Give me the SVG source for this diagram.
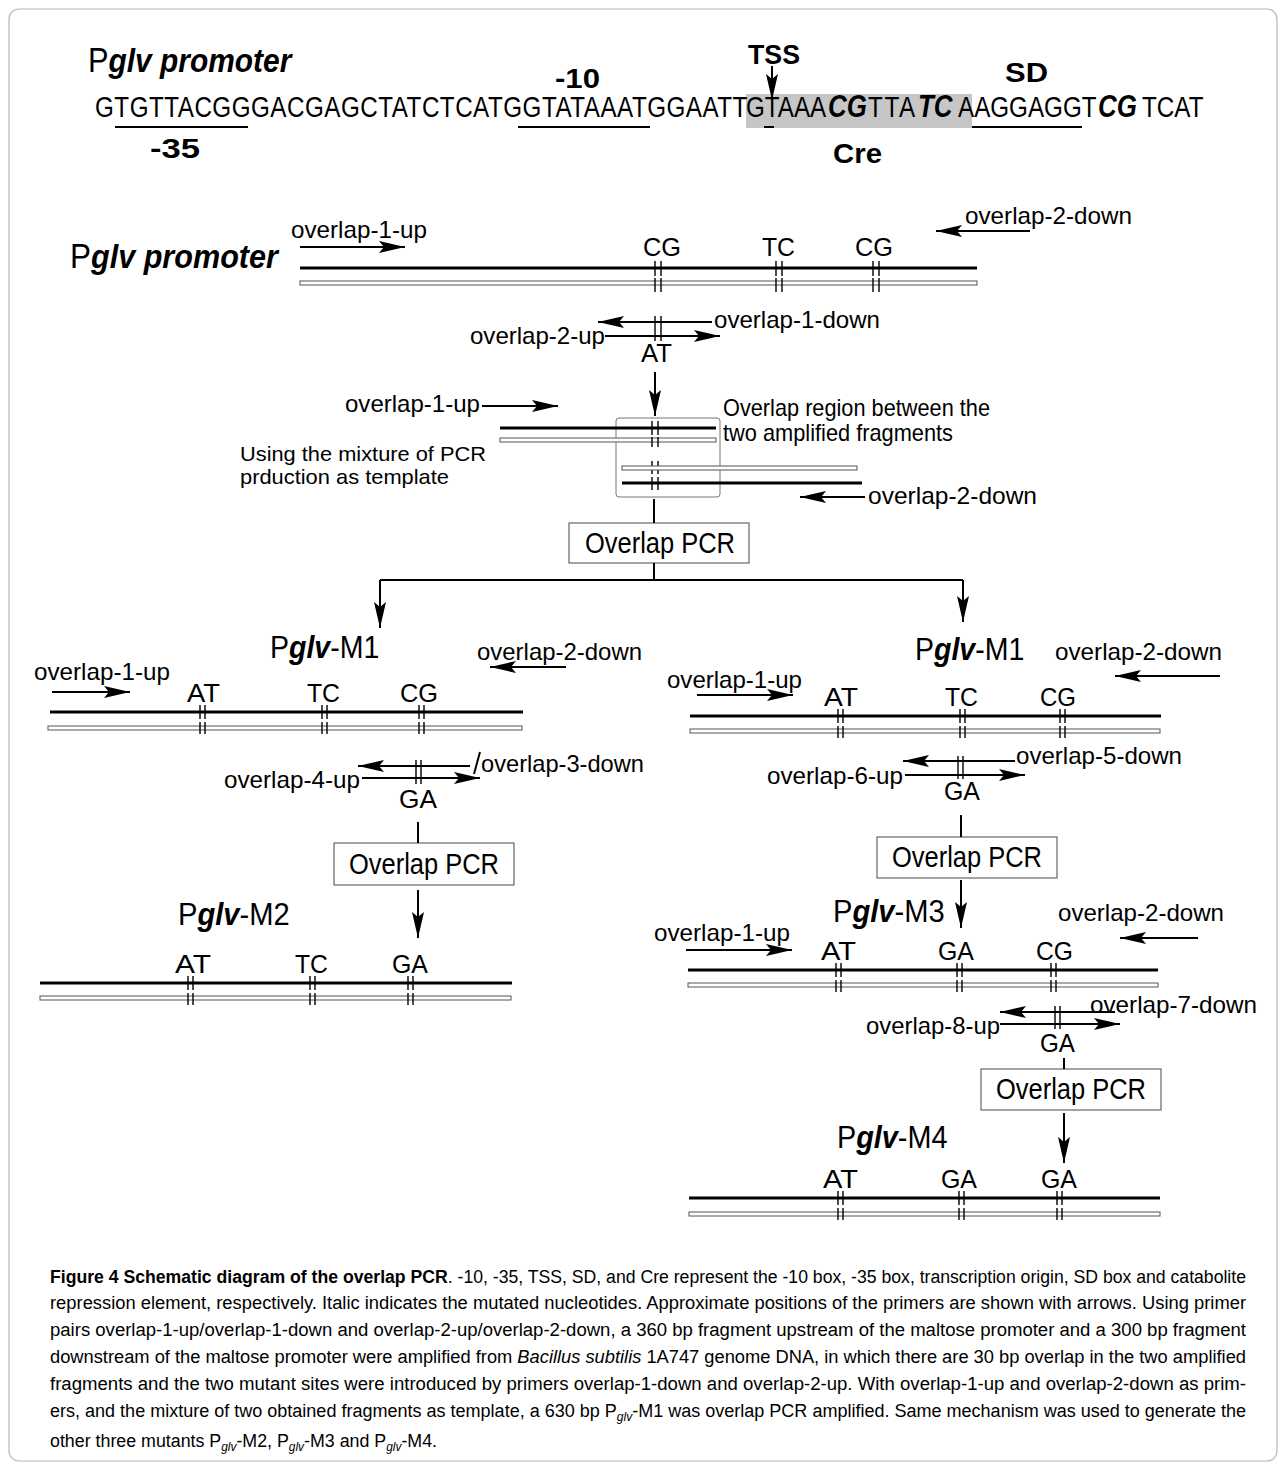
<svg xmlns="http://www.w3.org/2000/svg" width="1286" height="1466" viewBox="0 0 1286 1466">
<style>
text{font-family:"Liberation Sans",Arial,sans-serif;fill:#000}
.seq{font-size:29px}
.sb{font-weight:bold;font-style:italic}
.hd{font-size:28px;font-weight:bold}
.pl{font-size:24px}
.mu{font-size:26px}
.ti{font-size:31px}
.pt{font-size:35px}
.pcr{font-size:29px}
.cap{font-size:18px}
.st{stroke:#000;stroke-width:3}
.cp{fill:#fff;stroke:#555;stroke-width:1}
.tk{stroke:#000;stroke-width:1.4;fill:none}
.ar{stroke:#000;stroke-width:2;fill:none;marker-end:url(#ah)}
.ln{stroke:#000;stroke-width:2;fill:none}
.bx{fill:#fff;stroke:#666;stroke-width:1.2}
</style>
<defs>
<marker id="ah" markerUnits="userSpaceOnUse" markerWidth="28" markerHeight="14" refX="26" refY="7" orient="auto">
<path d="M0,1 L26,7 L0,13 L5,7 z" fill="#000"/>
</marker>
</defs>
<rect x="9" y="9" width="1268" height="1452" rx="10" fill="none" stroke="#b5b5b5" stroke-width="1.2"/>

<g id="sequence">
<text class="pt" transform="translate(88,72) scale(0.88,1)">P<tspan class="sb" font-size="34">glv  promoter</tspan></text>
<text class="hd" x="555" y="88" textLength="45" lengthAdjust="spacingAndGlyphs">-10</text>
<text class="hd" x="748" y="64" textLength="52" lengthAdjust="spacingAndGlyphs">TSS</text>
<text class="hd" x="1005" y="82" textLength="43" lengthAdjust="spacingAndGlyphs">SD</text>
<rect x="746" y="94" width="226" height="34" fill="#c6c6c6"/>
<text class="seq" transform="scale(0.835,1)" x="113.8" y="117"><tspan letter-spacing="0.6">GTGTTACGGGACGAGCTATCTCATGGTATAAATGGAATT</tspan><tspan x="893.4">GTAAA</tspan><tspan x="991.6" class="sb" font-size="31">CG</tspan><tspan x="1039.5" letter-spacing="2">TTA</tspan><tspan x="1099.4" class="sb" font-size="31">TC</tspan><tspan x="1147.3">AAGGAGGT</tspan><tspan x="1315" class="sb" font-size="31">CG</tspan><tspan x="1367.7">TCAT</tspan></text>
<path class="ln" d="M115,127H248M518,127H650M972,127H1082M764,127H774" stroke-width="2.5"/>
<text class="hd" x="150" y="158" textLength="50" lengthAdjust="spacingAndGlyphs">-35</text>
<text class="hd" x="833" y="163" textLength="49" lengthAdjust="spacingAndGlyphs">Cre</text>
</g>

<g id="pglv-promoter">
<text class="pt" transform="translate(70,268) scale(0.9,1)">P<tspan class="sb" font-size="34">glv  promoter</tspan></text>
<line class="st" x1="300" y1="268" x2="977" y2="268"/>
<rect class="cp" x="300" y="281" width="677" height="4"/>
<path class="tk" d="M655,261V276M661,261V276M655,278V292M661,278V292M776,261V276M782,261V276M776,278V292M782,278V292M873,261V276M879,261V276M873,278V292M879,278V292"/>
<text class="mu" x="643" y="256" textLength="38" lengthAdjust="spacingAndGlyphs">CG</text>
<text class="mu" x="762" y="256" textLength="33" lengthAdjust="spacingAndGlyphs">TC</text>
<text class="mu" x="855" y="256" textLength="38" lengthAdjust="spacingAndGlyphs">CG</text>
<text class="pl" x="291" y="238" textLength="136" lengthAdjust="spacingAndGlyphs">overlap-1-up</text>
<path class="ar" d="M300,247H405"/>
<text class="pl" x="965" y="224" textLength="167" lengthAdjust="spacingAndGlyphs">overlap-2-down</text>
<path class="ar" d="M1030,231H936"/>
</g>

<g id="primers-1-2">
<path class="ar" d="M712,322H598"/>
<text class="pl" x="714" y="328" textLength="166" lengthAdjust="spacingAndGlyphs">overlap-1-down</text>
<text class="pl" x="470" y="344" textLength="135" lengthAdjust="spacingAndGlyphs">overlap-2-up</text>
<path class="ar" d="M605,336H720"/>
<path class="tk" d="M655,316V341M661,316V341"/>
<text class="mu" x="641" y="362" textLength="31" lengthAdjust="spacingAndGlyphs">AT</text>
</g>

<g id="mixture">
<text class="pl" x="345" y="412" textLength="135" lengthAdjust="spacingAndGlyphs">overlap-1-up</text>
<path class="ar" d="M482,406H558"/>
<rect x="616" y="418" width="104" height="79" rx="3" fill="none" stroke="#777" stroke-width="1"/>
<line class="st" x1="500" y1="428" x2="716" y2="428"/>
<rect class="cp" x="500" y="438" width="216" height="4"/>
<path class="tk" d="M652,421V435M658,421V435M652,437V447M658,437V447M652,461V474M658,461V474M652,477V490M658,477V490"/>
<text class="pl" x="723" y="416" textLength="267" lengthAdjust="spacingAndGlyphs">Overlap region between the</text>
<text class="pl" x="723" y="441" textLength="230" lengthAdjust="spacingAndGlyphs">two amplified fragments</text>
<text x="240" y="461" font-size="21" textLength="246" lengthAdjust="spacingAndGlyphs">Using the mixture of PCR</text>
<text x="240" y="484" font-size="21" textLength="209" lengthAdjust="spacingAndGlyphs">prduction as template</text>
<rect class="cp" x="622" y="466" width="235" height="4"/>
<line class="st" x1="622" y1="483" x2="862" y2="483"/>
<path class="ar" d="M865,497H800"/>
<text class="pl" x="868" y="504" textLength="169" lengthAdjust="spacingAndGlyphs">overlap-2-down</text>
</g>

<g id="pcr-1">
<rect class="bx" x="569" y="523" width="180" height="40"/>
<text class="pcr" x="585" y="553" textLength="150" lengthAdjust="spacingAndGlyphs">Overlap PCR</text>
</g>

<g id="m1-left">
<text class="ti" transform="translate(270,658) scale(0.92,1)">P<tspan class="sb">glv</tspan>-M1</text>
<text class="pl" x="477" y="660" textLength="165" lengthAdjust="spacingAndGlyphs">overlap-2-down</text>
<path class="ar" d="M566,667H490"/>
<text class="pl" x="34" y="680" textLength="136" lengthAdjust="spacingAndGlyphs">overlap-1-up</text>
<path class="ar" d="M52,692H130"/>
<text class="mu" x="187" y="702" textLength="33" lengthAdjust="spacingAndGlyphs">AT</text>
<text class="mu" x="307" y="702" textLength="33" lengthAdjust="spacingAndGlyphs">TC</text>
<text class="mu" x="400" y="702" textLength="38" lengthAdjust="spacingAndGlyphs">CG</text>
<line class="st" x1="50" y1="712" x2="523" y2="712"/>
<rect class="cp" x="48" y="726" width="474" height="4"/>
<path class="tk" d="M200,705V719M205,705V719M200,722V734M205,722V734M322,705V719M327,705V719M322,722V734M327,722V734M419,705V719M424,705V719M419,722V734M424,722V734"/>
<path class="ar" d="M470,766H358"/>
<path class="ln" d="M474,774L480,752" stroke-width="1.5"/>
<text class="pl" x="481" y="772" textLength="163" lengthAdjust="spacingAndGlyphs">overlap-3-down</text>
<text class="pl" x="224" y="788" textLength="136" lengthAdjust="spacingAndGlyphs">overlap-4-up</text>
<path class="ar" d="M362,778H480"/>
<path class="tk" d="M416,760V784M421,760V784"/>
<text class="mu" x="399" y="808" textLength="38" lengthAdjust="spacingAndGlyphs">GA</text>
</g>

<g id="pcr-2">
<rect class="bx" x="334" y="843" width="180" height="42"/>
<text class="pcr" x="349" y="874" textLength="150" lengthAdjust="spacingAndGlyphs">Overlap PCR</text>
</g>

<g id="m2">
<text class="ti" transform="translate(178,925) scale(0.94,1)">P<tspan class="sb">glv</tspan>-M2</text>
<text class="mu" x="175" y="973" textLength="36" lengthAdjust="spacingAndGlyphs">AT</text>
<text class="mu" x="295" y="973" textLength="33" lengthAdjust="spacingAndGlyphs">TC</text>
<text class="mu" x="392" y="973" textLength="36" lengthAdjust="spacingAndGlyphs">GA</text>
<line class="st" x1="40" y1="983" x2="512" y2="983"/>
<rect class="cp" x="40" y="996" width="471" height="4"/>
<path class="tk" d="M188,976V990M193,976V990M188,993V1005M193,993V1005M310,976V990M315,976V990M310,993V1005M315,993V1005M408,976V990M413,976V990M408,993V1005M413,993V1005"/>
</g>

<g id="m1-right">
<text class="ti" transform="translate(915,660) scale(0.92,1)">P<tspan class="sb">glv</tspan>-M1</text>
<text class="pl" x="1055" y="660" textLength="167" lengthAdjust="spacingAndGlyphs">overlap-2-down</text>
<path class="ar" d="M1220,676H1115"/>
<text class="pl" x="667" y="688" textLength="135" lengthAdjust="spacingAndGlyphs">overlap-1-up</text>
<path class="ar" d="M697,695H793"/>
<text class="mu" x="824" y="706" textLength="34" lengthAdjust="spacingAndGlyphs">AT</text>
<text class="mu" x="945" y="706" textLength="33" lengthAdjust="spacingAndGlyphs">TC</text>
<text class="mu" x="1040" y="706" textLength="36" lengthAdjust="spacingAndGlyphs">CG</text>
<line class="st" x1="690" y1="716" x2="1161" y2="716"/>
<rect class="cp" x="690" y="729" width="470" height="4"/>
<path class="tk" d="M838,709V723M843,709V723M838,726V738M843,726V738M960,709V723M965,709V723M960,726V738M965,726V738M1060,709V723M1065,709V723M1060,726V738M1065,726V738"/>
<path class="ar" d="M1015,761H903"/>
<text class="pl" x="1016" y="764" textLength="166" lengthAdjust="spacingAndGlyphs">overlap-5-down</text>
<text class="pl" x="767" y="784" textLength="136" lengthAdjust="spacingAndGlyphs">overlap-6-up</text>
<path class="ar" d="M905,775H1025"/>
<path class="tk" d="M958,756V779M963,756V779"/>
<text class="mu" x="944" y="800" textLength="36" lengthAdjust="spacingAndGlyphs">GA</text>
</g>

<g id="pcr-3">
<rect class="bx" x="877" y="837" width="180" height="41"/>
<text class="pcr" x="892" y="867" textLength="150" lengthAdjust="spacingAndGlyphs">Overlap PCR</text>
</g>

<g id="m3">
<text class="ti" transform="translate(833,922) scale(0.94,1)">P<tspan class="sb">glv</tspan>-M3</text>
<text class="pl" x="1058" y="921" textLength="166" lengthAdjust="spacingAndGlyphs">overlap-2-down</text>
<path class="ar" d="M1198,938H1120"/>
<text class="pl" x="654" y="941" textLength="136" lengthAdjust="spacingAndGlyphs">overlap-1-up</text>
<path class="ar" d="M686,950H792"/>
<text class="mu" x="821" y="960" textLength="35" lengthAdjust="spacingAndGlyphs">AT</text>
<text class="mu" x="938" y="960" textLength="36" lengthAdjust="spacingAndGlyphs">GA</text>
<text class="mu" x="1036" y="960" textLength="37" lengthAdjust="spacingAndGlyphs">CG</text>
<line class="st" x1="688" y1="970" x2="1158" y2="970"/>
<rect class="cp" x="688" y="983" width="470" height="4"/>
<path class="tk" d="M836,963V977M841,963V977M836,980V992M841,980V992M957,963V977M962,963V977M957,980V992M962,980V992M1051,963V977M1056,963V977M1051,980V992M1056,980V992"/>
<path class="ar" d="M1115,1012H1000"/>
<text class="pl" x="1090" y="1013" textLength="167" lengthAdjust="spacingAndGlyphs">overlap-7-down</text>
<text class="pl" x="866" y="1034" textLength="134" lengthAdjust="spacingAndGlyphs">overlap-8-up</text>
<path class="ar" d="M1000,1024H1120"/>
<path class="tk" d="M1055,1006V1029M1060,1006V1029"/>
<text class="mu" x="1040" y="1052" textLength="35" lengthAdjust="spacingAndGlyphs">GA</text>
</g>

<g id="pcr-4">
<rect class="bx" x="981" y="1069" width="180" height="41"/>
<text class="pcr" x="996" y="1099" textLength="150" lengthAdjust="spacingAndGlyphs">Overlap PCR</text>
</g>

<g id="m4">
<text class="ti" transform="translate(837,1148) scale(0.93,1)">P<tspan class="sb">glv</tspan>-M4</text>
<text class="mu" x="823" y="1188" textLength="35" lengthAdjust="spacingAndGlyphs">AT</text>
<text class="mu" x="941" y="1188" textLength="36" lengthAdjust="spacingAndGlyphs">GA</text>
<text class="mu" x="1041" y="1188" textLength="36" lengthAdjust="spacingAndGlyphs">GA</text>
<line class="st" x1="689" y1="1198" x2="1160" y2="1198"/>
<rect class="cp" x="689" y="1212" width="471" height="4"/>
<path class="tk" d="M838,1191V1205M843,1191V1205M838,1208V1220M843,1208V1220M959,1191V1205M964,1191V1205M959,1208V1220M964,1208V1220M1057,1191V1205M1062,1191V1205M1057,1208V1220M1062,1208V1220"/>
</g>

<g id="connectors">
<path class="ar" d="M772,66V100"/>
<path class="ar" d="M655,372V416"/>
<path class="ln" d="M654,499V523"/>
<path class="ln" d="M654,563V580M380,580H963"/>
<path class="ar" d="M380,580V628"/>
<path class="ar" d="M963,580V622"/>
<path class="ln" d="M418,822V843"/>
<path class="ar" d="M418,890V938"/>
<path class="ln" d="M961,815V837"/>
<path class="ar" d="M961,880V928"/>
<path class="ln" d="M1064,1058V1069"/>
<path class="ar" d="M1064,1113V1163"/>
</g>

<g id="caption">
<text class="cap" x="50" y="1283" textLength="1196" lengthAdjust="spacingAndGlyphs"><tspan font-weight="bold">Figure 4 Schematic diagram of the overlap PCR</tspan>. -10, -35, TSS, SD, and Cre represent the -10 box, -35 box, transcription origin, SD box and catabolite</text>
<text class="cap" x="50" y="1309" textLength="1196" lengthAdjust="spacingAndGlyphs">repression element, respectively. Italic indicates the mutated nucleotides. Approximate positions of the primers are shown with arrows. Using primer</text>
<text class="cap" x="50" y="1336" textLength="1196" lengthAdjust="spacingAndGlyphs">pairs overlap-1-up/overlap-1-down and overlap-2-up/overlap-2-down, a 360 bp fragment upstream of the maltose promoter and a 300 bp fragment</text>
<text class="cap" x="50" y="1363" textLength="1196" lengthAdjust="spacingAndGlyphs">downstream of the maltose promoter were amplified from <tspan font-style="italic">Bacillus subtilis</tspan> 1A747 genome DNA, in which there are 30 bp overlap in the two amplified</text>
<text class="cap" x="50" y="1390" textLength="1196" lengthAdjust="spacingAndGlyphs">fragments and the two mutant sites were introduced by primers overlap-1-down and overlap-2-up. With overlap-1-up and overlap-2-down as prim-</text>
<text class="cap" x="50" y="1417" textLength="1196" lengthAdjust="spacingAndGlyphs">ers, and the mixture of two obtained fragments as template, a 630 bp P<tspan font-size="12" font-style="italic" dy="4">glv</tspan><tspan dy="-4">-M1 was overlap PCR amplified. Same mechanism was used to generate the</tspan></text>
<text class="cap" x="50" y="1447" textLength="387" lengthAdjust="spacingAndGlyphs">other three mutants P<tspan font-size="12" font-style="italic" dy="4">glv</tspan><tspan dy="-4">-M2, P</tspan><tspan font-size="12" font-style="italic" dy="4">glv</tspan><tspan dy="-4">-M3 and P</tspan><tspan font-size="12" font-style="italic" dy="4">glv</tspan><tspan dy="-4">-M4.</tspan></text>
</g>
</svg>
